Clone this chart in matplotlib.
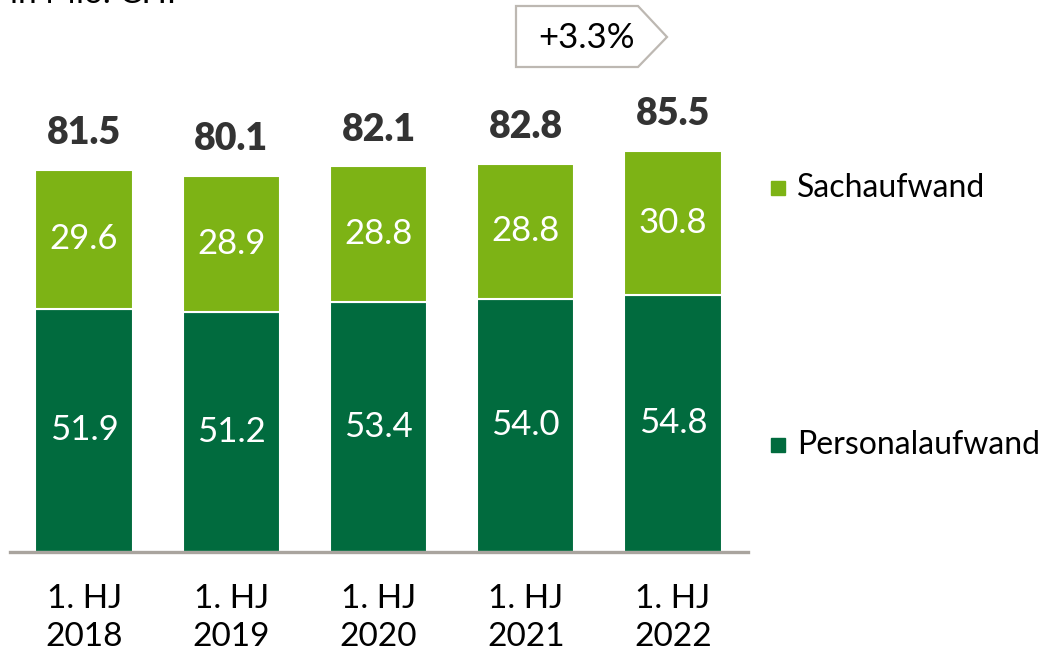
import matplotlib
matplotlib.use("Agg")
import matplotlib.pyplot as plt
from matplotlib.patches import Polygon

plt.rcParams['font.family'] = ['Lato', 'DejaVu Sans']

# Daten (in Mio. CHF)
perioden = ["1. HJ\n2018", "1. HJ\n2019", "1. HJ\n2020", "1. HJ\n2021", "1. HJ\n2022"]
personalaufwand = [51.9, 51.2, 53.4, 54.0, 54.8]
sachaufwand = [29.6, 28.9, 28.8, 28.8, 30.8]
total = [81.5, 80.1, 82.1, 82.8, 85.5]
veraenderung = "+3.3%"

dunkelgruen = "#016b3e"
hellgruen = "#7db315"

W, H = 1042, 654
fig = plt.figure(figsize=(W / 100, H / 100), dpi=100)

# Achse: links 10px, rechts 748px, Basis bei y=552px
ax = fig.add_axes([10 / W, (H - 552) / H, 738 / W, 552 / H])
ax.set_xlim(-0.503, 4.509)
ax.set_ylim(0, 552 / 4.69)

x = range(len(perioden))
ax.bar(x, personalaufwand, width=0.66, color=dunkelgruen, edgecolor="white", linewidth=1.5)
ax.bar(x, sachaufwand, width=0.66, bottom=personalaufwand, color=hellgruen,
       edgecolor="white", linewidth=1.5)

for i in x:
    ax.text(i, personalaufwand[i] / 2, f"{personalaufwand[i]:.1f}", ha="center", va="center",
            color="white", fontsize=25)
    ax.text(i, personalaufwand[i] + sachaufwand[i] / 2, f"{sachaufwand[i]:.1f}", ha="center",
            va="center", color="white", fontsize=25)
    ax.text(i, total[i] + 7.9, f"{total[i]:.1f}", ha="center", va="center",
            color="#333333", fontsize=27, fontweight="heavy")

for s in ["top", "right", "left"]:
    ax.spines[s].set_visible(False)
ax.spines["bottom"].set_color("#a9a49e")
ax.spines["bottom"].set_linewidth(2.4)
ax.set_yticks([])
ax.set_xticks(list(x))
ax.set_xticklabels(perioden, fontsize=24, linespacing=1.32)
ax.tick_params(axis="x", length=0, pad=23)

# Legende
fig.patches.append(plt.Rectangle((771 / W, 1 - 195 / H), 14 / W, 14 / H,
                                 transform=fig.transFigure, color=hellgruen))
fig.text(797 / W, 1 - 188 / H, "Sachaufwand", fontsize=23, va="center", ha="left")
fig.patches.append(plt.Rectangle((771 / W, 1 - 452 / H), 14 / W, 14 / H,
                                 transform=fig.transFigure, color=dunkelgruen))
fig.text(797 / W, 1 - 445 / H, "Personalaufwand", fontsize=23, va="center", ha="left")

# Pfeil-Box mit Veraenderung
pts = [(516, 6), (638, 6), (667, 37), (638, 67), (516, 67)]
fig.patches.append(Polygon([(px / W, 1 - py / H) for px, py in pts], closed=True,
                           transform=fig.transFigure, facecolor="white",
                           edgecolor="#bdb8b2", linewidth=1.6))
fig.text(587 / W, 1 - 38 / H, veraenderung, fontsize=25, ha="center", va="center")

# abgeschnittene Einheit oben links
fig.text(10 / W, 1 - 3 / H, "in Mio. CHF", fontsize=24, ha="left", va="baseline")

fig.savefig("out.png", dpi=100)
